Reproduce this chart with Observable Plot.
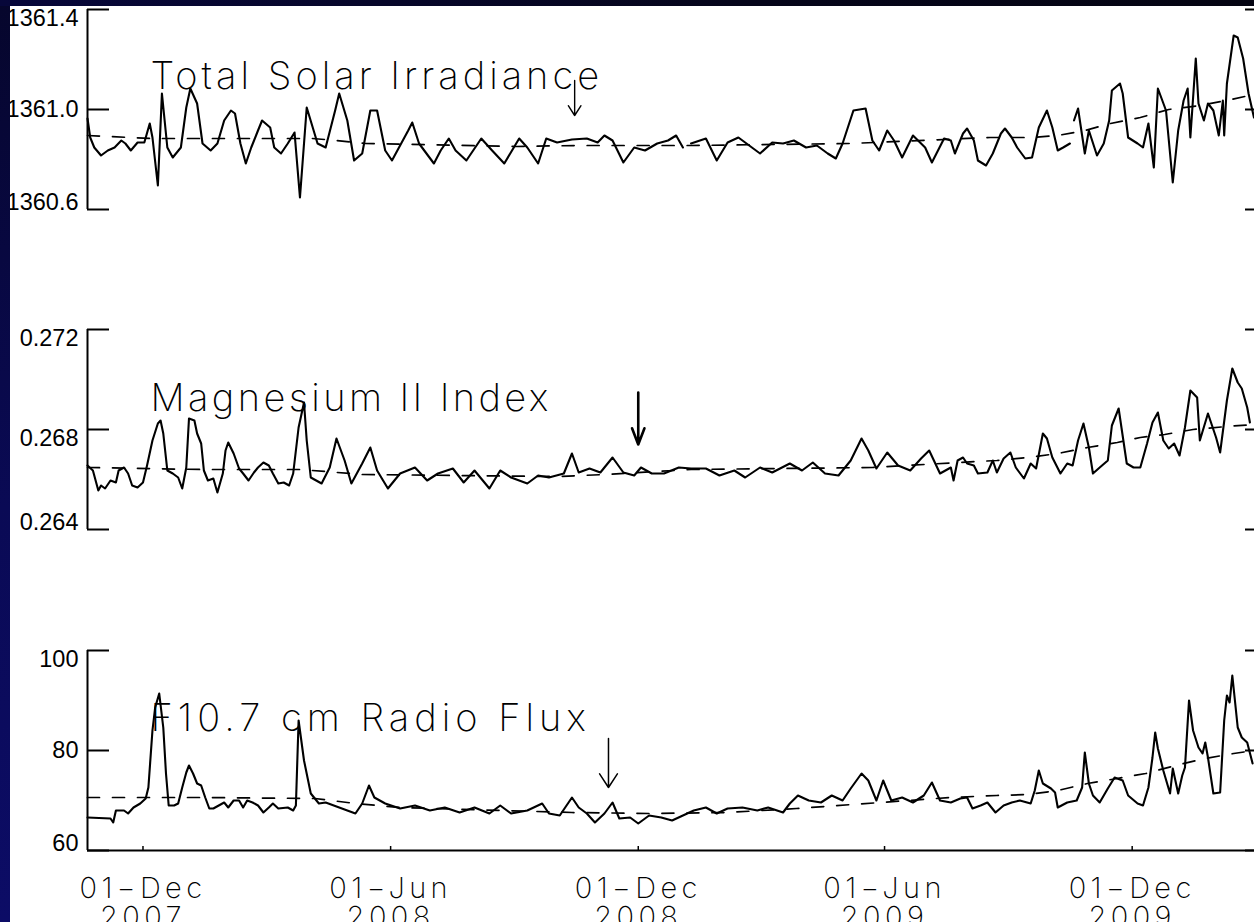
<!DOCTYPE html>
<html>
<head>
<meta charset="utf-8">
<script src="https://cdn.jsdelivr.net/npm/d3@7"></script>
<script src="https://cdn.jsdelivr.net/npm/@observablehq/plot@0.6"></script>
<style>
  html, body { margin: 0; padding: 0; }
  body { width: 1254px; height: 922px; overflow: hidden; background: #fff; position: relative; }
  .panel { position: absolute; left: 0; }
  .edge-left { position: absolute; left: 0; top: 0; width: 10px; height: 922px;
    background: linear-gradient(#06062c, #0a0a55 55%, #0c0c66); }
  .edge-top { position: absolute; left: 0; top: 0; width: 1254px; height: 6px;
    background: linear-gradient(90deg, #07073a, #05051a 60%, #040412); }
  [aria-label="title-tsi"] { letter-spacing: 4px; }
  [aria-label="title-mg"] { letter-spacing: 3.4px; }
  [aria-label="title-f107"] { letter-spacing: 5px; }
  [aria-label="date-label"] { letter-spacing: 4.4px; }
</style>
</head>
<body>
<div id="tsi" class="panel" style="top:0px"></div>
<div id="mg" class="panel" style="top:300px"></div>
<div id="f107" class="panel" style="top:620px"></div>
<div class="edge-left"></div>
<div class="edge-top"></div>
<script>
// Daily solar-activity proxies, Oct 2007 – Mar 2010.
// Each series is [days since 2007-12-01, value]; null marks a data gap.

const tsiSeries = [
  [-41,1360.964],[-39,1360.888],[-36,1360.848],[-31,1360.816],[-26,1360.836],[-21,1360.848],[-16,1360.876],[-13,1360.864],
  [-9,1360.836],[-4,1360.868],[1,1360.868],[5,1360.944],[7,1360.888],[11,1360.696],[14,1361.064],[18,1360.848],
  [22,1360.808],[28,1360.848],[32,1361.008],[35,1361.084],[40,1361.024],[44,1360.864],[50,1360.836],[55,1360.864],
  [60,1360.956],[65,1360.996],[68,1360.984],[72,1360.864],[76,1360.784],[80,1360.848],[85,1360.916],[88,1360.956],
  [94,1360.928],[97,1360.848],[102,1360.824],[107,1360.864],[112,1360.908],[116,1360.648],[121,1361.008],[129,1360.864],
  [135,1360.848],[142,1360.996],[145,1361.064],[151,1360.956],[156,1360.796],[162,1360.824],[168,1360.996],[173,1360.996],
  [179,1360.836],[184,1360.796],[196,1360.916],[199,1360.948],[204,1360.864],[215,1360.784],[220,1360.836],[226,1360.884],
  [231,1360.836],[239,1360.796],[250,1360.884],[258,1360.836],[267,1360.784],[278,1360.884],[284,1360.848],[292,1360.784],
  [298,1360.884],[306,1360.868],[317,1360.880],[328,1360.884],[336,1360.868],[341,1360.896],[347,1360.876],[355,1360.788],
  [363,1360.848],[371,1360.836],[380,1360.864],[388,1360.876],[394,1360.896],[399,1360.848],[402,null],[405,1360.864],
  [416,1360.884],[424,1360.796],[432,1360.868],[440,1360.888],[448,1360.856],[456,1360.824],[465,1360.868],[473,1360.864],
  [481,1360.876],[490,1360.848],[498,1360.856],[506,1360.824],[512,1360.804],[517,1360.864],[525,1360.996],[534,1361.004],
  [539,1360.876],[544,1360.836],[550,1360.916],[555,1360.876],[561,1360.808],[569,1360.896],[578,1360.848],[583,1360.788],
  [592,1360.884],[597,1360.876],[600,1360.824],[606,1360.904],[609,1360.924],[614,1360.876],[617,1360.796],[623,1360.776],
  [628,1360.824],[634,1360.904],[637,1360.924],[642,1360.888],[646,1360.848],[652,1360.804],[657,1360.808],[662,1360.928],
  [668,1360.996],[672,1360.928],[676,1360.836],[680,1360.848],[685,1360.864],[686,null],[688,1360.956],[691,1361.004],
  [696,1360.824],[699,1360.916],[705,1360.816],[710,1360.864],[714,1360.956],[716,1361.076],[722,1361.104],[724,1361.064],
  [728,1360.888],[735,1360.864],[739,1360.848],[743,1360.944],[747,1360.768],[750,1361.084],[756,1360.996],[761,1360.708],
  [765,1360.916],[769,1361.036],[772,1361.084],[774,1360.888],[778,1361.204],[780,1361.024],[784,1360.956],[787,1361.024],
  [791,1360.996],[795,1360.896],[798,1361.036],[799,1360.896],[801,1361.104],[806,1361.296],[809,1361.288],[813,1361.204],
  [817,1361.064],[821,1360.968]
];
const tsiTrend = [
  [-41,1360.896],[6,1360.884],[125,1360.884],[143,1360.876],[164,1360.864],[276,1360.852],[320,1360.856],
  [405,1360.856],[523,1360.864],[626,1360.888],[656,1360.888],[676,1360.896],[696,1360.916],[715,1360.944],
  [737,1360.968],[758,1361.000],[781,1361.016],[804,1361.040],[821,1361.060]
];

const mgSeries = [
  [-41,0.26656],[-37,0.26636],[-33,0.26556],[-31,0.26576],[-28,0.26564],[-24,0.26596],[-20,0.26588],[-18,0.26636],
  [-14,0.26648],[-11,0.26624],[-8,0.26576],[-4,0.26568],[0,0.26588],[3,0.26656],[7,0.26756],[11,0.26824],
  [13,0.26836],[15,0.26784],[18,0.26636],[22,0.26624],[26,0.26608],[29,0.26564],[32,0.26648],[34,0.26844],
  [38,0.26836],[40,0.26784],[43,0.26744],[45,0.26636],[48,0.26596],[52,0.26604],[55,0.26548],[59,0.26624],
  [61,0.26716],[63,0.26748],[67,0.26704],[71,0.26644],[74,0.26624],[78,0.26596],[82,0.26628],[85,0.26648],
  [89,0.26668],[93,0.26656],[96,0.26624],[100,0.26584],[104,0.26588],[108,0.26576],[111,0.26624],[115,0.26808],
  [119,0.26908],[121,0.26756],[124,0.26608],[132,0.26584],[138,0.26648],[143,0.26764],[149,0.26676],[154,0.26584],
  [162,0.26664],[168,0.26728],[173,0.26636],[181,0.26564],[190,0.26624],[201,0.26648],[210,0.26596],[218,0.26624],
  [229,0.26644],[237,0.26588],[245,0.26636],[256,0.26564],[264,0.26636],[272,0.26608],[284,0.26584],[292,0.26616],
  [300,0.26608],[311,0.26624],[317,0.26704],[322,0.26628],[330,0.26644],[338,0.26628],[347,0.26688],[355,0.26628],
  [363,0.26616],[368,0.26648],[376,0.26624],[385,0.26624],[396,0.26648],[405,0.26644],[416,0.26644],[426,0.26616],
  [437,0.26636],[445,0.26608],[456,0.26648],[465,0.26628],[478,0.26664],[487,0.26636],[495,0.26668],[504,0.26624],
  [514,0.26616],[523,0.26676],[531,0.26764],[536,0.26716],[542,0.26644],[550,0.26708],[558,0.26656],[567,0.26636],
  [575,0.26684],[581,0.26716],[589,0.26624],[597,0.26648],[599,0.26596],[602,0.26676],[606,0.26688],[609,0.26664],
  [614,0.26656],[617,0.26624],[624,0.26628],[628,0.26676],[631,0.26628],[636,0.26684],[641,0.26708],[645,0.26648],
  [651,0.26604],[656,0.26664],[660,0.26644],[665,0.26784],[668,0.26764],[672,0.26688],[678,0.26624],[683,0.26664],
  [687,0.26656],[691,0.26756],[695,0.26824],[699,0.26728],[702,0.26624],[707,0.26648],[713,0.26676],[716,0.26816],
  [721,0.26884],[727,0.26664],[732,0.26648],[737,0.26648],[742,0.26744],[746,0.26828],[750,0.26868],[754,0.26756],
  [758,0.26724],[762,0.26744],[766,0.26696],[770,0.26808],[774,0.26956],[779,0.26928],[781,0.26756],[787,0.26864],
  [793,0.26768],[796,0.26708],[801,0.26916],[805,0.27044],[809,0.26988],[812,0.26964],[816,0.26888],[818,0.26828]
];
const mgTrend = [
  [-41,0.26648],[43,0.26640],[116,0.26640],[162,0.26620],[306,0.26612],[342,0.26620],[405,0.26640],
  [539,0.26648],[603,0.26668],[631,0.26676],[654,0.26688],[676,0.26704],[698,0.26728],[720,0.26748],
  [737,0.26768],[755,0.26780],[776,0.26800],[801,0.26812],[821,0.26820]
];

const f107Series = [
  [-41,66.6],[-24,66.4],[-22,65.6],[-20,68.0],[-14,68.0],[-11,67.4],[-7,68.6],[-2,69.4],[2,70.4],[4,72.6],
  [7,84.0],[9,88.6],[12,91.4],[15,84.6],[17,75.4],[19,69.0],[23,69.0],[26,69.4],[29,72.6],[32,75.6],
  [34,77.0],[37,75.4],[40,73.4],[43,73.0],[46,70.6],[49,68.4],[52,68.4],[56,69.0],[60,69.6],[63,68.6],
  [67,70.0],[71,70.0],[74,68.6],[77,70.0],[81,69.6],[85,69.0],[89,67.6],[93,68.6],[96,69.4],[100,68.4],
  [107,68.6],[111,68.0],[113,69.0],[115,86.0],[119,78.0],[124,71.4],[130,69.4],[135,69.6],[157,67.4],[162,69.4],
  [167,73.0],[171,70.6],[179,69.4],[190,68.4],[201,69.0],[212,68.0],[223,68.6],[234,67.6],[245,68.6],[256,67.4],
  [264,69.0],[272,67.4],[284,68.0],[295,69.4],[300,67.4],[308,67.0],[317,70.6],[322,68.6],[328,67.4],[334,65.6],
  [341,67.4],[347,69.6],[352,66.4],[360,66.6],[366,65.4],[374,67.0],[383,66.6],[391,66.0],[399,67.0],[407,68.0],
  [416,68.6],[424,67.4],[432,68.4],[443,68.6],[454,68.0],[462,68.6],[473,67.6],[478,69.4],[484,71.0],[492,70.0],
  [501,69.6],[509,71.0],[517,70.0],[523,72.4],[531,75.4],[536,74.0],[542,70.0],[547,74.0],[553,70.0],[561,70.6],
  [569,69.6],[577,71.0],[583,73.6],[589,70.0],[597,69.6],[604,70.4],[609,70.6],[613,68.4],[619,69.0],[624,69.6],
  [630,67.6],[636,69.0],[642,69.6],[648,70.0],[656,69.4],[659,72.0],[662,76.0],[665,73.4],[671,72.4],[674,71.6],
  [676,68.6],[683,69.6],[690,70.0],[694,72.6],[696,79.6],[699,73.4],[702,71.0],[707,69.6],[713,72.4],[718,74.6],
  [724,74.0],[728,71.0],[735,69.4],[739,69.0],[743,72.6],[746,78.6],[748,83.6],[750,80.4],[754,76.0],[759,71.4],
  [761,76.4],[765,71.4],[768,75.0],[770,76.6],[773,90.0],[776,84.0],[780,80.6],[783,79.4],[785,81.6],[787,78.6],
  [791,71.4],[796,71.6],[799,86.0],[801,91.0],[803,89.6],[805,95.0],[809,84.6],[812,82.6],[816,81.6],[820,77.4]
];
const f107Trend = [
  [-41,70.6],[43,70.6],[127,70.4],[157,69.4],[190,68.6],[264,68.0],[317,67.6],[375,67.4],[432,67.6],
  [483,68.4],[545,69.6],[597,70.6],[631,71.0],[654,71.2],[676,72.0],[698,73.4],[720,74.4],[741,75.4],
  [763,77.0],[785,78.4],[806,79.4],[821,80.0]
];

// Arrows marking the minimum in each record: [day, from value, to value]
const tsiArrow = [319, 1361.116, 1360.976];
const mgArrow = [366, 0.26948, 0.26740];
const f107Arrow = [344, 82.4, 72.6];

const tsiTicks = [1360.6, 1361.0, 1361.4];
const tsiTickLabels = ["1360.6", "1361.0", "1361.4"];
const mgTicks = [0.264, 0.268, 0.272];
const mgTickLabels = ["0.264", "0.268", "0.272"];
const f107Ticks = [60, 80, 100];
const f107TickLabels = ["60", "80", "100"];

const dateTicks = ["2007-12-01", "2008-06-01", "2008-12-01", "2009-06-01", "2009-12-01"];
const dateTickLabels = ["01\u2212Dec\n2007", "01\u2212Jun\n2008", "01\u2212Dec\n2008", "01\u2212Jun\n2009", "01\u2212Dec\n2009"];

const titles = ["Total Solar Irradiance", "Magnesium II Index", "F10.7 cm Radio Flux"];

// ---------------------------------------------------------------------------
const epoch = Date.UTC(2007, 11, 1);
const toDate = (d) => new Date(epoch + d * 864e5);
const xDomain = [toDate(-41), toDate(831)];

const W = 1290, ML = 87, MR = 23;
const plotW = W - ML - MR;
const lightFont = "Inter, 'DejaVu Sans', sans-serif";
const labelFont = "'Liberation Sans', Arial, Helvetica, sans-serif";

function panel(opts) {
  const {key, series, trend, ticks, tickLabels, anchors, arrow, arrowStyle, title,
         height, marginTop, marginBottom, titleDy, dateAxis} = opts;
  const rows = series.map(([d, v]) => ({date: toDate(d), value: v}));
  const trendRows = trend.map(([d, v]) => ({date: toDate(d), value: v}));
  const tickRows = ticks.map((v, i) => ({value: v, label: tickLabels[i], anchor: anchors[i]}));
  const arrowRows = [{date: toDate(arrow[0]), from: arrow[1], to: arrow[2]}];
  const plotH = height - marginTop - marginBottom;

  const marks = [
    // left and right axis lines with inward ticks
    Plot.ruleX([xDomain[0]], {strokeWidth: 2}),
    Plot.ruleX([xDomain[1]], {strokeWidth: 2}),
    Plot.ruleY(ticks, {strokeWidth: 2, insetRight: plotW - 22}),
    Plot.ruleY(ticks, {strokeWidth: 2, insetLeft: plotW - 22}),
    ...["top", "middle", "bottom"].map((a) =>
      Plot.text(tickRows.filter((t) => t.anchor === a), {
        y: "value", text: "label", frameAnchor: "left", textAnchor: "end",
        lineAnchor: a, dx: -9, fontSize: 23.5, fontFamily: labelFont, fill: "black"
      })),
    // smoothed trend, then the daily record
    Plot.line(trendRows, {x: "date", y: "value", stroke: "black", strokeWidth: 1.7, strokeDasharray: "12,13"}),
    Plot.line(rows, {x: "date", y: "value", stroke: "black", strokeWidth: 2.1, strokeLinejoin: "round"}),
    Plot.arrow(arrowRows, {x: "date", y1: "from", y2: "to", stroke: "black", ...arrowStyle}),
    Plot.text([title], {
      text: (d) => d, frameAnchor: "top-left", textAnchor: "start", lineAnchor: "bottom",
      dx: 63, dy: titleDy, fontSize: 38, fontFamily: lightFont, fontWeight: 200, fill: "black",
      ariaLabel: () => "title-" + key
    })
  ];

  if (dateAxis) {
    const dateRows = dateTicks.map((d, i) => ({date: new Date(d + "T00:00:00Z"), label: dateTickLabels[i]}));
    marks.push(
      Plot.ruleY([ticks[0]], {strokeWidth: 2}),
      Plot.ruleX(dateRows, {x: "date", strokeWidth: 1.5, insetTop: plotH - 4}),
      Plot.text(dateRows, {
        x: "date", text: "label", frameAnchor: "bottom", lineAnchor: "top", dy: 27,
        fontSize: 29, fontFamily: lightFont, fontWeight: 200, fill: "black",
        ariaLabel: () => "date-label"
      })
    );
  }

  return Plot.plot({
    width: W, height, marginLeft: ML, marginRight: MR, marginTop, marginBottom,
    style: "max-width:none;background:transparent;overflow:visible;",
    x: {type: "utc", domain: xDomain, axis: null},
    y: {domain: [ticks[0], ticks[ticks.length - 1]], axis: null},
    marks
  });
}

document.getElementById("tsi").append(panel({
  key: "tsi", series: tsiSeries, trend: tsiTrend, ticks: tsiTicks, tickLabels: tsiTickLabels,
  anchors: ["bottom", "middle", "top"], arrow: tsiArrow,
  arrowStyle: {strokeWidth: 1.4, headLength: 21, headAngle: 66},
  title: titles[0], height: 230, marginTop: 9, marginBottom: 21, titleDy: 79
}));
document.getElementById("mg").append(panel({
  key: "mg", series: mgSeries, trend: mgTrend, ticks: mgTicks, tickLabels: mgTickLabels,
  anchors: ["bottom", "top", "top"], arrow: mgArrow,
  arrowStyle: {strokeWidth: 2.6, headLength: 13, headAngle: 42},
  title: titles[1], height: 250, marginTop: 29, marginBottom: 21, titleDy: 81
}));
document.getElementById("f107").append(panel({
  key: "f107", series: f107Series, trend: f107Trend, ticks: f107Ticks, tickLabels: f107TickLabels,
  anchors: ["bottom", "middle", "top"], arrow: f107Arrow,
  arrowStyle: {strokeWidth: 1.5, headLength: 20, headAngle: 66},
  title: titles[2], height: 302, marginTop: 30, marginBottom: 72, titleDy: 80, dateAxis: true
}));
</script>
</body>
</html>
